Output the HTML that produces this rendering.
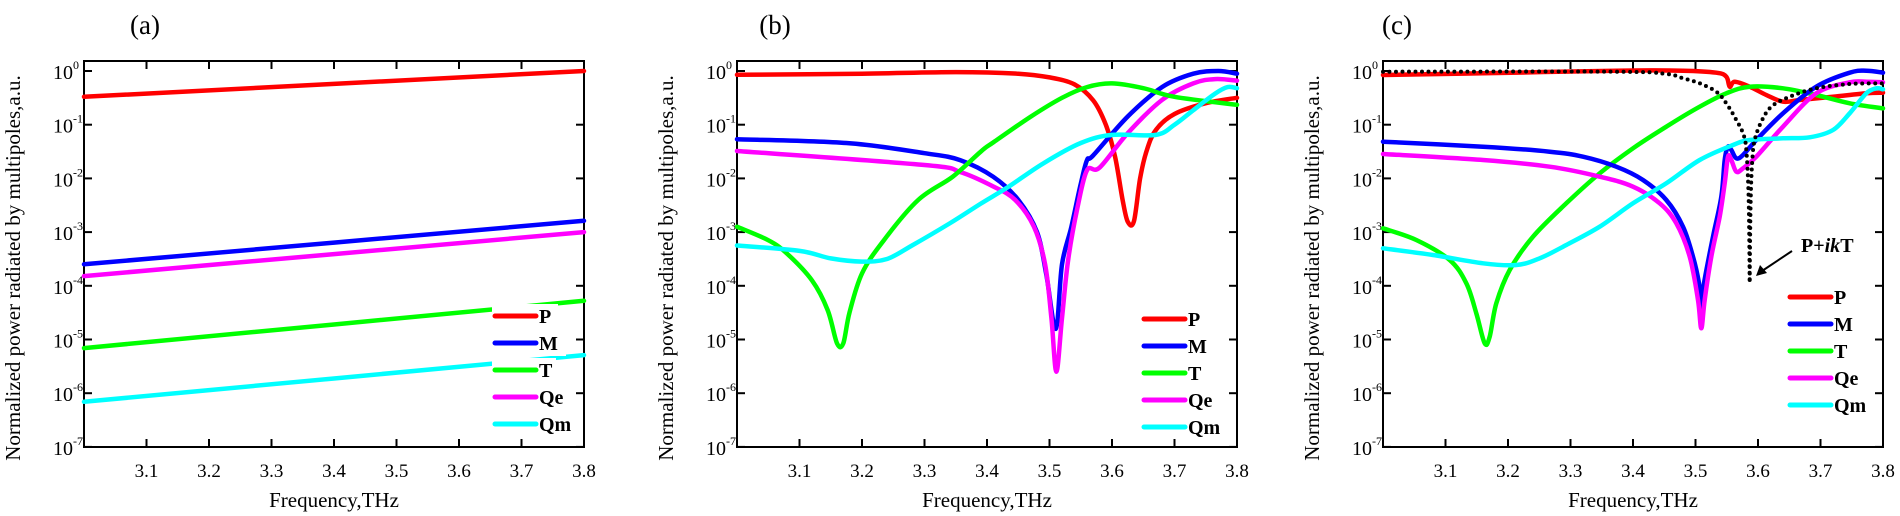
<!DOCTYPE html>
<html><head><meta charset="utf-8"><style>
html,body{margin:0;padding:0;background:#fff;}
svg{display:block;}
svg text{font-family:"Liberation Serif","Times New Roman",serif;fill:#000;}
</style></head><body>
<svg id="s" width="1900" height="516" viewBox="0 0 1900 516" xmlns="http://www.w3.org/2000/svg" font-family="Liberation Serif, serif"></svg>
<script>
const S=document.getElementById('s');let h='';
const TOP=61,BOT=447,Y0=71,DEC=53.7,W=500;
function cr(pts){let d='M'+pts[0][0].toFixed(1)+','+pts[0][1].toFixed(1);
 for(let i=0;i<pts.length-1;i++){const p0=pts[Math.max(0,i-1)],p1=pts[i],p2=pts[i+1],p3=pts[Math.min(pts.length-1,i+2)];
 const c1=[p1[0]+(p2[0]-p0[0])/6,p1[1]+(p2[1]-p0[1])/6],c2=[p2[0]-(p3[0]-p1[0])/6,p2[1]-(p3[1]-p1[1])/6];
 d+='C'+c1[0].toFixed(1)+','+c1[1].toFixed(1)+' '+c2[0].toFixed(1)+','+c2[1].toFixed(1)+' '+p2[0].toFixed(1)+','+p2[1].toFixed(1);}
 return d;}
function fl(x0,arr){return arr.map(p=>[x0+(p[0]-3)*625,Y0-DEC*p[1]]);}
function zc(x0,arr){return arr.map(p=>[x0+p[0]/3,50+p[1]/3]);}
const COL={P:'#f00',M:'#00f',T:'#0f0',Qe:'#f0f',Qm:'#0ff'};
const FF='font-family="Liberation Serif, serif"';
function line(pts,c,w=4.5){h+=`<path d="${cr(pts)}" fill="none" stroke="${c}" stroke-width="${w}" stroke-linejoin="round" stroke-linecap="round"/>`;}
function axes(x0,title,tx){
 h+=`<text ${FF} x="${tx}" y="34" font-size="27" text-anchor="middle">${title}</text>`;
 h+=`<rect x="${x0}" y="${TOP}" width="${W}" height="${BOT-TOP}" fill="none" stroke="#000" stroke-width="2"/>`;
 for(let i=1;i<=7;i++){const x=x0+i*62.5;
  h+=`<line x1="${x}" y1="${BOT}" x2="${x}" y2="${BOT-8}" stroke="#000" stroke-width="2"/><line x1="${x}" y1="${TOP}" x2="${x}" y2="${TOP+8}" stroke="#000" stroke-width="2"/>`;}
 for(let i=1;i<=8;i++){const x=x0+i*62.5;h+=`<text ${FF} x="${x}" y="477" font-size="19" text-anchor="middle">${(3+i/10).toFixed(1)}</text>`;}
 for(let k=0;k<=7;k++){const y=Y0+k*DEC;
  h+=`<line x1="${x0}" y1="${y}" x2="${x0+8}" y2="${y}" stroke="#000" stroke-width="2"/><line x1="${x0+W}" y1="${y}" x2="${x0+W-8}" y2="${y}" stroke="#000" stroke-width="2"/>`;
  h+=`<text ${FF} x="${x0-31}" y="${y+8}" font-size="20">10</text><text ${FF} x="${x0-11}" y="${y-2}" font-size="12">${k?'-'+k:'0'}</text>`;}
 h+=`<text ${FF} transform="translate(${x0-64},268) rotate(-90)" font-size="21" text-anchor="middle">Normalized power radiated by multipoles,a.u.</text>`;
 h+=`<text ${FF} x="${x0+250}" y="507" font-size="21" text-anchor="middle">Frequency,THz</text>`;
}
function legend(lx,ly,bg){const n=['P','M','T','Qe','Qm'],ends=[18,26,16,32,40];
 n.forEach((k,i)=>{const y=ly+i*27;
  if(bg)h+=`<rect x="${lx-3}" y="${y-12}" width="${48+ends[i]}" height="25" fill="#fff"/>`;
  h+=`<line x1="${lx}" y1="${y}" x2="${lx+41}" y2="${y}" stroke="${COL[k]}" stroke-width="5" stroke-linecap="round"/>`;
  h+=`<text ${FF} x="${lx+44}" y="${y+7}" font-size="20" font-weight="bold">${k}</text>`;});}
// Panel a
let a=84;axes(a,'(a)',145);
line(fl(a,[[3,-0.48],[3.8,0]]),COL.P);
line(fl(a,[[3,-3.6],[3.8,-2.79]]),COL.M);
line(fl(a,[[3,-3.82],[3.8,-3.0]]),COL.Qe);
line(fl(a,[[3,-5.16],[3.8,-4.28]]),COL.T);
line(fl(a,[[3,-6.16],[3.8,-5.29]]),COL.Qm);
legend(495,316,true);
// Panel b
let b=737;axes(b,'(b)',775);
line(fl(b,[[3,-0.07],[3.2,-0.05],[3.35,-0.02],[3.45,-0.05],[3.5,-0.12],[3.54,-0.25],[3.57,-0.55],[3.59,-1.0],[3.605,-1.6],[3.617,-2.4],[3.625,-2.8],[3.635,-2.8],[3.645,-2.0],[3.655,-1.5],[3.67,-1.1],[3.7,-0.8],[3.75,-0.6],[3.8,-0.5]]),COL.P);
line(fl(b,[[3,-1.27],[3.175,-1.34],[3.3,-1.53],[3.357,-1.66],[3.41,-1.97],[3.45,-2.4],[3.48,-3.0],[3.495,-3.8],[3.51,-4.8],[3.52,-3.6],[3.535,-2.9],[3.55,-2.1],[3.56,-1.66],[3.57,-1.57],[3.625,-0.85],[3.68,-0.3],[3.73,-0.05],[3.77,0.0],[3.8,-0.05]]),COL.M);
line(fl(b,[[3,-1.49],[3.3,-1.75],[3.357,-1.88],[3.41,-2.15],[3.445,-2.4],[3.475,-2.9],[3.493,-3.6],[3.503,-4.6],[3.511,-5.6],[3.52,-4.6],[3.53,-3.5],[3.545,-2.53],[3.56,-1.85],[3.58,-1.8],[3.625,-1.16],[3.68,-0.54],[3.73,-0.23],[3.765,-0.15],[3.8,-0.18]]),COL.Qe);
line(fl(b,[[3,-2.9],[3.05,-3.15],[3.08,-3.4],[3.12,-3.9],[3.145,-4.45],[3.16,-5.07],[3.17,-5.07],[3.18,-4.5],[3.2,-3.77],[3.235,-3.15],[3.29,-2.4],[3.345,-1.97],[3.39,-1.5],[3.41,-1.33],[3.47,-0.85],[3.52,-0.5],[3.56,-0.3],[3.6,-0.23],[3.65,-0.32],[3.7,-0.48],[3.8,-0.63]]),COL.T);
line(fl(b,[[3,-3.25],[3.1,-3.35],[3.15,-3.49],[3.2,-3.55],[3.24,-3.5],[3.28,-3.25],[3.34,-2.84],[3.39,-2.47],[3.435,-2.15],[3.49,-1.72],[3.55,-1.34],[3.6,-1.19],[3.67,-1.19],[3.7,-1.0],[3.73,-0.73],[3.765,-0.42],[3.785,-0.3],[3.8,-0.32]]),COL.Qm);
legend(1144,319,false);
// Panel c
let c=1383;axes(c,'(c)',1397);
line(zc(c,[[0,75],[300,70],[700,62],[900,62],[1000,68],[1030,80],[1040,110],[1055,95],[1100,110],[1150,135],[1200,155],[1250,150],[1350,140],[1450,130],[1500,128]]),COL.P);
line(zc(c,[[0,535],[100,570],[200,630],[250,700],[280,790],[305,880],[320,860],[340,760],[380,660],[450,560],[550,460],[650,370],[750,295],[850,230],[950,170],[1030,130],[1100,110],[1200,115],[1300,135],[1400,160],[1500,175]]),COL.T);
line(zc(c,[[0,275],[300,290],[500,305],[600,320],[700,350],[780,390],[850,450],[900,530],[930,620],[948,700],[955,770],[963,700],[990,560],[1015,440],[1025,330],[1035,290],[1045,300],[1060,325],[1080,315],[1120,270],[1200,190],[1300,110],[1400,68],[1450,62],[1500,68]]),COL.M);
line(zc(c,[[0,312],[300,330],[500,350],[650,380],[750,410],[830,460],[880,520],[920,620],[945,750],[955,835],[965,750],[985,620],[1010,500],[1025,400],[1035,320],[1045,330],[1060,365],[1080,355],[1120,320],[1200,230],[1300,130],[1400,97],[1450,95],[1500,97]]),COL.Qe);
line(zc(c,[[0,595],[150,615],[300,640],[400,645],[470,625],[550,585],[650,530],[750,460],[850,400],[950,330],[1050,285],[1100,270],[1200,265],[1280,262],[1350,240],[1400,190],[1450,130],[1480,115],[1500,118]]),COL.Qm);
h+=`<path d="${cr(zc(c,[[0,65],[700,65],[850,72],[900,85],[950,100],[1000,125],[1030,160],[1060,210],[1080,250],[1090,300],[1097,450],[1100,690]]))}" fill="none" stroke="#000" stroke-width="4" stroke-linecap="round" stroke-dasharray="0 6.5"/>`;
h+=`<path d="${cr(zc(c,[[1100,690],[1103,450],[1108,330],[1115,270],[1135,215],[1165,170],[1220,140],[1300,115],[1400,102],[1500,100]]))}" fill="none" stroke="#000" stroke-width="4" stroke-linecap="round" stroke-dasharray="0 6.5"/>`;
h+=`<line x1="1792" y1="251" x2="1762" y2="271" stroke="#000" stroke-width="2"/><polygon points="1756,276 1760,265 1767,273" fill="#000"/>`;
h+=`<text ${FF} x="1801" y="252" font-size="20" font-weight="bold">P+<tspan font-style="italic">ik</tspan>T</text>`;
legend(1790,297,false);
S.innerHTML=h;
</script>
</body></html>
